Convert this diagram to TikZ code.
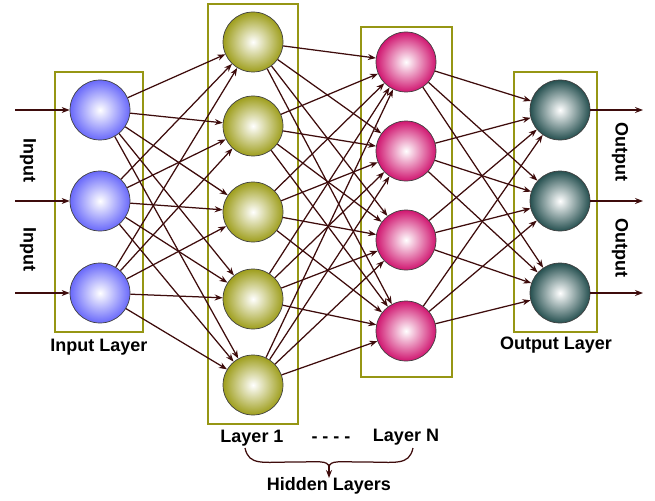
\documentclass[tikz,border=0pt]{standalone}
\usepackage{fontspec}
\setmainfont{Liberation Sans}
\usetikzlibrary{arrows.meta}
\definecolor{edgec}{RGB}{62,12,12}
\definecolor{boxc}{RGB}{150,150,20}
\definecolor{inc}{RGB}{105,105,250}
\definecolor{hac}{RGB}{158,158,28}
\definecolor{hbc}{RGB}{208,22,112}
\definecolor{outc}{RGB}{38,80,80}
\begin{document}
\begin{tikzpicture}[x=1pt,y=-1pt,
  neuron/.style={circle, minimum size=60pt, inner sep=0pt, draw=black!75, line width=0.7pt, inner color=white, outer color=#1},
  layerbox/.style={draw=boxc, line width=2.6pt},
  conn/.style={draw=edgec, line width=1.25pt, -{Stealth[length=8pt,width=6pt]}},
  lbl/.style={font=\fontsize{18}{21}\selectfont\bfseries, inner sep=0pt}]
\useasboundingbox (0,0) rectangle (655,500);
% boxes
\draw[layerbox] (55,72) rectangle (143,332);
\draw[layerbox] (208,4) rectangle (298,424);
\draw[layerbox] (361,27) rectangle (452,377);
\draw[layerbox] (514,72) rectangle (597,332);
% neurons
\foreach \y [count=\i] in {110,201,293} \node[neuron=inc] (in\i) at (100,\y) {};
\foreach \y [count=\i] in {42,126,212,299,385} \node[neuron=hac] (ha\i) at (253,\y) {};
\foreach \y [count=\i] in {62,151,240,331} \node[neuron=hbc] (hb\i) at (406,\y) {};
\foreach \y [count=\i] in {110,201,293} \node[neuron=outc] (out\i) at (560,\y) {};
% inputs / outputs
\foreach \y [count=\i] in {110,201,293} {
  \coordinate (src\i) at (15,\y);
  \coordinate (dst\i) at (643,\y);
  \draw[conn] (src\i) -- (in\i);
  \draw[conn] (out\i) -- (dst\i);
}
% connections
\foreach \i in {1,2,3} \foreach \j in {1,...,5} \draw[conn] (in\i) -- (ha\j);
\foreach \i in {1,...,5} \foreach \j in {1,...,4} \draw[conn] (ha\i) -- (hb\j);
\foreach \i in {1,...,4} \foreach \j in {1,2,3} \draw[conn] (hb\i) -- (out\j);
% labels
\node[lbl, rotate=-90] (inA) at (28,160) {Input};
\node[lbl, rotate=-90] (inB) at (28,249) {Input};
\node[lbl, rotate=-90] (outA) at (620,152) {Output};
\node[lbl, rotate=-90] (outB) at (620,248) {Output};
\node[lbl] (inL) at (99,347) {Input Layer};
\node[lbl] (outL) at (556,345) {Output Layer};
\node[lbl] (l1) at (252,438) {Layer 1};
\node[lbl] (dots) at (331,440) {- - - -};
\node[lbl] (lN) at (406,437) {Layer N};
\node[lbl] (hid) at (329,486) {Hidden Layers};
% brace
\coordinate (braceL) at (245,448);
\coordinate (braceR) at (413,448);
\coordinate (braceM) at (329,467);
\coordinate (braceTip) at (329,478);
\draw[draw=edgec, line width=1.25pt] (braceL) .. controls (249,466) and (262,462) .. (295,462) .. controls (318,462) and (328,460) .. (braceM);
\draw[draw=edgec, line width=1.25pt] (braceR) .. controls (409,466) and (396,462) .. (363,462) .. controls (340,462) and (330,460) .. (braceM);
\draw[conn] (braceM) -- (braceTip);
\end{tikzpicture}
\end{document}
